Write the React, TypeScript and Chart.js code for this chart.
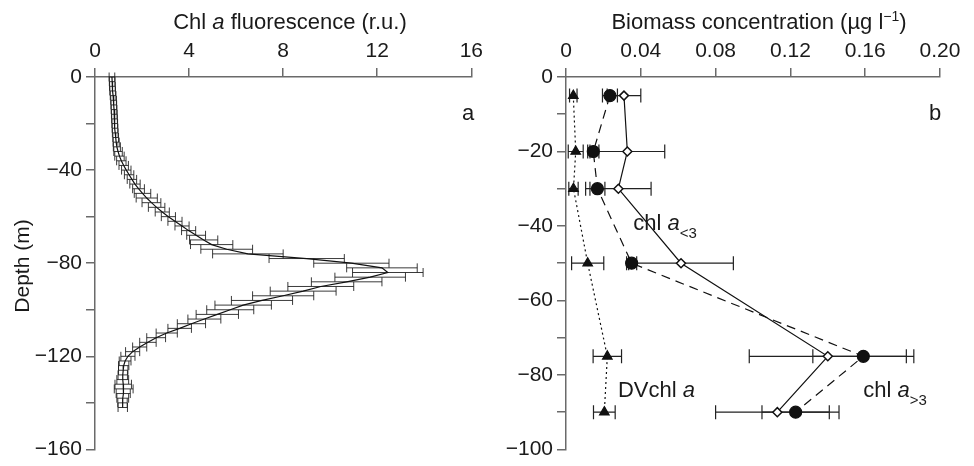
import React, { useEffect, useRef } from 'react';
import { Chart, registerables } from 'chart.js';
Chart.register(...registerables);

const FONT = '"Liberation Sans", Arial, Helvetica, sans-serif';
const TICK_SIZE = 21;
const TITLE_SIZE = 22;

// ---------- Panel a: Chl a fluorescence profile ----------
const depthA = [0, -2, -4, -6, -8, -10, -12, -14, -16, -18,
  -20, -22, -24, -26, -28, -30, -32, -34, -36, -38,
  -40, -42, -44, -46, -48, -50, -52, -54, -56, -58,
  -60, -62, -64, -66, -68, -70, -72, -74, -76, -78,
  -80, -82, -84, -86, -88, -90, -92, -94, -96, -98,
  -100, -102, -104, -106, -108, -110, -112, -114, -116, -118,
  -120, -122, -124, -126, -128, -130, -132, -134, -136, -138,
  -140, -142];
const fluor = [0.72, 0.73, 0.74, 0.75, 0.77, 0.79, 0.8, 0.81, 0.82, 0.83,
  0.84, 0.85, 0.86, 0.88, 0.9, 0.93, 0.98, 1.04, 1.12, 1.22,
  1.33, 1.45, 1.57, 1.7, 1.85, 2.02, 2.2, 2.4, 2.62, 2.86,
  3.12, 3.4, 3.7, 3.98, 4.3, 4.62, 4.96, 5.6, 6.5, 9.0,
  10.9, 12.2, 12.45, 11.7, 10.7, 9.6, 8.85, 8.0, 7.1, 6.3,
  5.75, 5.2, 4.65, 4.1, 3.6, 3.05, 2.6, 2.25, 1.9, 1.6,
  1.4, 1.28, 1.22, 1.2, 1.18, 1.18, 1.2, 1.22, 1.2, 1.18,
  1.17, 1.18];
const fluorErr = [0.12, 0.12, 0.12, 0.12, 0.12, 0.12, 0.12, 0.12, 0.12, 0.12,
  0.12, 0.12, 0.12, 0.12, 0.13, 0.15, 0.18, 0.2, 0.2, 0.2,
  0.2, 0.2, 0.2, 0.22, 0.25, 0.35, 0.45, 0.4, 0.35, 0.3,
  0.3, 0.3, 0.3, 0.3, 0.4, 0.6, 0.9, 1.1, 1.5, 1.6,
  1.6, 1.5, 1.5, 1.5, 1.5, 1.4, 1.4, 1.3, 1.3, 1.2,
  1.0, 0.9, 0.7, 0.6, 0.5, 0.45, 0.4, 0.35, 0.3, 0.3,
  0.3, 0.25, 0.22, 0.2, 0.2, 0.25, 0.35, 0.4, 0.3, 0.25,
  0.2, 0.2];

// ---------- Panel b: biomass concentration ----------
const depthB = [-5, -20, -30, -50, -75, -90];
const chlSmall = [0.031, 0.0328, 0.028, 0.0615, 0.14, 0.113];
const chlSmallErr = [0.009, 0.02, 0.0175, 0.028, 0.042, 0.033];
const chlLarge = [0.0235, 0.0146, 0.0168, 0.0351, 0.159, 0.1228];
const chlLargeErr = [0.004, 0.003, 0.004, 0.0027, 0.027, 0.018];
const dvChl = [0.0039, 0.0052, 0.004, 0.0116, 0.0221, 0.0205];
const dvChlErr = [0.002, 0.004, 0.0025, 0.0086, 0.0076, 0.0058];

const fmtDepth = (v: number) => (v === 0 ? '0' : v < 0 ? '\u2212' + Math.abs(v) : String(v));

type Part = { t: string; italic?: boolean; size?: number; dy?: number };

function drawRich(ctx: CanvasRenderingContext2D, parts: Part[], x: number, y: number, align: 'left' | 'center', base: number) {
  const fontOf = (p: Part) => `${p.italic ? 'italic ' : ''}${p.size || base}px ${FONT}`;
  let total = 0;
  for (const p of parts) {
    ctx.font = fontOf(p);
    total += ctx.measureText(p.t).width;
  }
  let cx = align === 'center' ? x - total / 2 : x;
  ctx.textAlign = 'left';
  ctx.textBaseline = 'alphabetic';
  for (const p of parts) {
    ctx.font = fontOf(p);
    ctx.fillText(p.t, cx, y + (p.dy || 0));
    cx += ctx.measureText(p.t).width;
  }
}

const errorBarPlugin = {
  id: 'errorBars',
  beforeDatasetsDraw(chart: any) {
    const ctx = chart.ctx as CanvasRenderingContext2D;
    const xs = chart.scales.x;
    const ys = chart.scales.y;
    chart.data.datasets.forEach((ds: any) => {
      if (!ds.errX) return;
      ctx.save();
      ctx.strokeStyle = ds.errColor || '#222';
      ctx.lineWidth = ds.errWidth || 1;
      const cap = ds.capH || 8;
      ds.data.forEach((pt: any, i: number) => {
        const e = ds.errX[i];
        const y = ys.getPixelForValue(pt.y);
        const x1 = xs.getPixelForValue(pt.x - e);
        const x2 = xs.getPixelForValue(pt.x + e);
        ctx.beginPath();
        ctx.moveTo(x1, y);
        ctx.lineTo(x2, y);
        ctx.moveTo(x1, y - cap / 2);
        ctx.lineTo(x1, y + cap / 2);
        ctx.moveTo(x2, y - cap / 2);
        ctx.lineTo(x2, y + cap / 2);
        ctx.stroke();
      });
      ctx.restore();
    });
  },
};

const labelsA = {
  id: 'labelsA',
  afterDraw(chart: any) {
    const ctx = chart.ctx as CanvasRenderingContext2D;
    ctx.save();
    ctx.fillStyle = '#1a1a1a';
    drawRich(ctx, [{ t: 'Chl ' }, { t: 'a', italic: true }, { t: ' fluorescence (r.u.)' }], 290, 29, 'center', TITLE_SIZE);
    drawRich(ctx, [{ t: 'a' }], 462, 120, 'left', TITLE_SIZE);
    ctx.save();
    ctx.translate(29, 266);
    ctx.rotate(-Math.PI / 2);
    drawRich(ctx, [{ t: 'Depth (m)' }], 0, 0, 'center', 21);
    ctx.restore();
    ctx.restore();
  },
};

const labelsB = {
  id: 'labelsB',
  afterDraw(chart: any) {
    const ctx = chart.ctx as CanvasRenderingContext2D;
    const xs = chart.scales.x;
    const ys = chart.scales.y;
    ctx.save();
    ctx.fillStyle = '#1a1a1a';
    drawRich(ctx, [{ t: 'Biomass concentration (\u00b5g l' }, { t: '\u22121', size: 14, dy: -8 }, { t: ')' }], 272, 29, 'center', TITLE_SIZE);
    drawRich(ctx, [{ t: 'b' }], 442, 120, 'left', TITLE_SIZE);
    drawRich(ctx, [{ t: 'chl ' }, { t: 'a', italic: true }, { t: '<3', size: 15, dy: 8 }],
      xs.getPixelForValue(0.036), ys.getPixelForValue(-41), 'left', TITLE_SIZE);
    drawRich(ctx, [{ t: 'DVchl ' }, { t: 'a', italic: true }],
      xs.getPixelForValue(0.0278), ys.getPixelForValue(-86), 'left', TITLE_SIZE);
    drawRich(ctx, [{ t: 'chl ' }, { t: 'a', italic: true }, { t: '>3', size: 15, dy: 8 }],
      xs.getPixelForValue(0.159), ys.getPixelForValue(-86), 'left', TITLE_SIZE);
    ctx.restore();
  },
};

const axisCommon = {
  grid: { display: true, drawOnChartArea: false, drawTicks: true, tickLength: 9, color: '#6a6a6a', lineWidth: 1.5 },
  border: { display: true, color: '#6a6a6a', width: 1.5 },
};

export default function App() {
  const refA = useRef<HTMLCanvasElement>(null);
  const refB = useRef<HTMLCanvasElement>(null);

  useEffect(() => {
    const chartA = new Chart(refA.current!, {
      type: 'scatter',
      data: {
        datasets: [
          {
            data: depthA.map((d, i) => ({ x: fluor[i], y: d })),
            showLine: true,
            borderColor: '#111',
            borderWidth: 1.2,
            pointRadius: 0,
            errX: fluorErr,
            capH: 9,
            errColor: 'rgba(25,25,25,0.85)',
            errWidth: 1,
          } as any,
        ],
      },
      options: {
        animation: false,
        responsive: false,
        layout: { padding: { left: 0, top: 0, right: 11, bottom: 5 } },
        plugins: { legend: { display: false }, tooltip: { enabled: false } },
        scales: {
          x: {
            type: 'linear', position: 'top', min: 0, max: 16,
            ticks: { stepSize: 4, color: '#1a1a1a', padding: 4, maxRotation: 0, autoSkip: false, font: { family: FONT, size: TICK_SIZE } },
            ...axisCommon,
            afterFit: (s: any) => { s.height = 77; },
          },
          y: {
            type: 'linear', position: 'left', min: -160, max: 0,
            ticks: {
              stepSize: 20, color: '#1a1a1a', padding: 4, autoSkip: false, font: { family: FONT, size: TICK_SIZE },
              callback: (v: any) => (Number(v) % 40 === 0 ? fmtDepth(Number(v)) : ''),
            },
            ...axisCommon,
            afterFit: (s: any) => { s.width = 95; },
          },
        },
      } as any,
      plugins: [errorBarPlugin, labelsA],
    });

    const mk = (vals: number[]) => depthB.map((d, i) => ({ x: vals[i], y: d }));
    const chartB = new Chart(refB.current!, {
      type: 'scatter',
      data: {
        datasets: [
          {
            label: 'DVchl a', data: mk(dvChl), showLine: true, borderColor: '#111', borderWidth: 1.2,
            borderDash: [2, 3], pointStyle: 'triangle', pointRadius: 5.5, pointBackgroundColor: '#111', pointBorderColor: '#111',
            errX: dvChlErr, capH: 14, errWidth: 1.2,
          } as any,
          {
            label: 'chl a>3', data: mk(chlLarge), showLine: true, borderColor: '#111', borderWidth: 1.2,
            borderDash: [9, 6], pointStyle: 'circle', pointRadius: 6, pointBackgroundColor: '#111', pointBorderColor: '#111',
            errX: chlLargeErr, capH: 14, errWidth: 1.2,
          } as any,
          {
            label: 'chl a<3', data: mk(chlSmall), showLine: true, borderColor: '#111', borderWidth: 1.2,
            pointStyle: 'rectRot', pointRadius: 4.5, pointBackgroundColor: '#fff', pointBorderColor: '#111', pointBorderWidth: 1.5,
            errX: chlSmallErr, capH: 14, errWidth: 1.2,
          } as any,
        ],
      },
      options: {
        animation: false,
        responsive: false,
        layout: { padding: { left: 0, top: 0, right: 34, bottom: 16 } },
        plugins: { legend: { display: false }, tooltip: { enabled: false } },
        scales: {
          x: {
            type: 'linear', position: 'top', min: 0, max: 0.2,
            ticks: {
              stepSize: 0.04, color: '#1a1a1a', padding: 4, maxRotation: 0, autoSkip: false, font: { family: FONT, size: TICK_SIZE },
              callback: (v: any) => (Number(v) === 0 ? '0' : Number(v).toFixed(2)),
            },
            ...axisCommon,
            afterFit: (s: any) => { s.height = 77; },
          },
          y: {
            type: 'linear', position: 'left', min: -100, max: 0,
            ticks: {
              stepSize: 10, color: '#1a1a1a', padding: 4, autoSkip: false, font: { family: FONT, size: TICK_SIZE },
              callback: (v: any) => (Math.round(Number(v)) % 20 === 0 ? fmtDepth(Math.round(Number(v))) : ''),
            },
            ...axisCommon,
            afterFit: (s: any) => { s.width = 79; },
          },
        },
      } as any,
      plugins: [errorBarPlugin, labelsB],
    });

    return () => {
      chartA.destroy();
      chartB.destroy();
    };
  }, []);

  return (
    <div style={{ position: 'fixed', left: 0, top: 0, width: 974, height: 466, background: '#fff' }}>
      <canvas ref={refA} width={487} height={466} style={{ position: 'absolute', left: 0, top: 0 }} />
      <canvas ref={refB} width={487} height={466} style={{ position: 'absolute', left: 487, top: 0 }} />
    </div>
  );
}
